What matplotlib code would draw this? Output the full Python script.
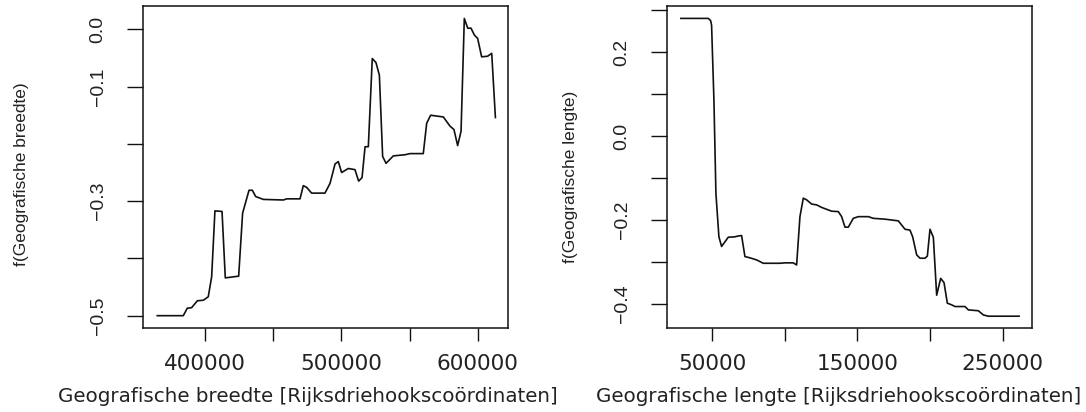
import matplotlib
matplotlib.use("Agg")
import matplotlib.pyplot as plt

# partial effect of latitude (RD coordinates)
breedte_x = [365000, 384100, 387000, 390200, 394400, 398800, 402400, 404900, 407300, 412500,
             414900, 424700, 427600, 432300, 434700, 437200, 442800, 457500, 459900, 469700,
             472100, 474600, 478200, 488000, 491700, 495400, 497800, 500200, 505100, 510000,
             512700, 515200, 517400, 519800, 522700, 525400, 527900, 530300, 532800, 538100,
             546700, 550400, 560100, 562600, 565500, 574800, 579700, 582600, 585300, 587800,
             590200, 592700, 595100, 597600, 600000, 602900, 607300, 610300, 613000]
breedte_f = [-0.500, -0.500, -0.487, -0.486, -0.474, -0.473, -0.467, -0.432, -0.317, -0.318,
             -0.434, -0.431, -0.321, -0.281, -0.281, -0.292, -0.297, -0.298, -0.296, -0.296,
             -0.273, -0.276, -0.286, -0.286, -0.269, -0.235, -0.231, -0.250, -0.243, -0.245,
             -0.265, -0.259, -0.205, -0.205, -0.051, -0.058, -0.080, -0.222, -0.234, -0.221,
             -0.219, -0.217, -0.217, -0.164, -0.150, -0.153, -0.169, -0.175, -0.203, -0.178,
             0.019, 0.002, 0.002, -0.010, -0.016, -0.048, -0.047, -0.042, -0.154]

# partial effect of longitude (RD coordinates)
lengte_x = [28400, 47240, 48850, 49540, 51150, 52530, 54590, 56430, 61020, 65620,
            67910, 70210, 72510, 75950, 80550, 85140, 96620, 100070, 105810, 108110,
            110400, 112700, 115000, 118440, 121890, 125330, 132220, 136820, 139110, 141410,
            143710, 147150, 150600, 157490, 160930, 168970, 178160, 182750, 186200, 188030,
            190790, 193090, 196530, 198140, 199970, 202270, 204570, 207330, 209620, 211920,
            214900, 217200, 224090, 226390, 233280, 236720, 240170, 261300]
lengte_f = [0.280, 0.280, 0.275, 0.264, 0.086, -0.137, -0.240, -0.263, -0.241, -0.240,
            -0.238, -0.237, -0.287, -0.290, -0.295, -0.303, -0.303, -0.302, -0.302, -0.307,
            -0.192, -0.148, -0.152, -0.162, -0.164, -0.170, -0.179, -0.180, -0.192, -0.217,
            -0.217, -0.196, -0.192, -0.192, -0.196, -0.198, -0.202, -0.222, -0.224, -0.240,
            -0.283, -0.291, -0.291, -0.286, -0.222, -0.241, -0.379, -0.339, -0.349, -0.398,
            -0.402, -0.406, -0.406, -0.414, -0.416, -0.426, -0.429, -0.429]

breedte_xticks = [400000, 450000, 500000, 550000, 600000]
breedte_xlabels = ['400000', '', '500000', '', '600000']
breedte_yticks = [0.0, -0.1, -0.2, -0.3, -0.4, -0.5]
breedte_ylabels = ['0.0', '\u22120.1', '', '\u22120.3', '', '\u22120.5']

lengte_xticks = [50000, 100000, 150000, 200000, 250000]
lengte_xlabels = ['50000', '', '150000', '', '250000']
lengte_yticks = [0.3, 0.2, 0.1, 0.0, -0.1, -0.2, -0.3, -0.4]
lengte_ylabels = ['', '0.2', '', '0.0', '', '\u22120.2', '', '\u22120.4']

txt = '#222222'

fig = plt.figure(figsize=(10.86, 4.12), dpi=100)
ax1 = fig.add_axes([0.1320, 0.2046, 0.3361, 0.7808])
ax2 = fig.add_axes([0.6146, 0.2046, 0.3359, 0.7808])

panels = [
    (ax1, breedte_x, breedte_f, breedte_xticks, breedte_xlabels, breedte_yticks, breedte_ylabels,
     (354800, 622500), (-0.521, 0.0407),
     'Geografische breedte [Rijksdriehookscoördinaten]', 'f(Geografische breedte)',
     (0.451, -0.230), (-0.335, 0.477)),
    (ax2, lengte_x, lengte_f, lengte_xticks, lengte_xlabels, lengte_yticks, lengte_ylabels,
     (19150, 270390), (-0.4564, 0.3095),
     'Geografische lengte [Rijksdriehookscoördinaten]', 'f(Geografische lengte)',
     (0.469, -0.230), (-0.265, 0.468)),
]

for ax, x, f, xt, xl, yt, yl, xlim, ylim, xlab, ylab, xlc, ylc in panels:
    ax.plot(x, f, color='#111111', lw=1.2)
    ax.set_xlim(*xlim)
    ax.set_ylim(*ylim)
    ax.set_xticks(xt, xl, fontsize=15.5, family='DejaVu Sans', color=txt)
    ax.set_yticks(yt, yl, fontsize=14, family='Liberation Sans', color=txt,
                  rotation=90, va='center')
    ax.tick_params(axis='x', length=9.4, width=1.0, pad=9.5, color='#111111')
    ax.tick_params(axis='y', length=11.5, width=1.0, pad=15, color='#111111')
    for s in ax.spines.values():
        s.set_linewidth(1.1)
        s.set_color('#111111')
    ax.set_xlabel(xlab, fontsize=14.3, family='DejaVu Sans', color=txt)
    ax.xaxis.label.set_va('baseline')
    ax.xaxis.set_label_coords(*xlc)
    ax.set_ylabel(ylab, fontsize=12.5, family='Liberation Sans', color=txt)
    ax.yaxis.label.set_va('center')
    ax.yaxis.set_label_coords(*ylc)

plt.savefig('out.png', dpi=100)
